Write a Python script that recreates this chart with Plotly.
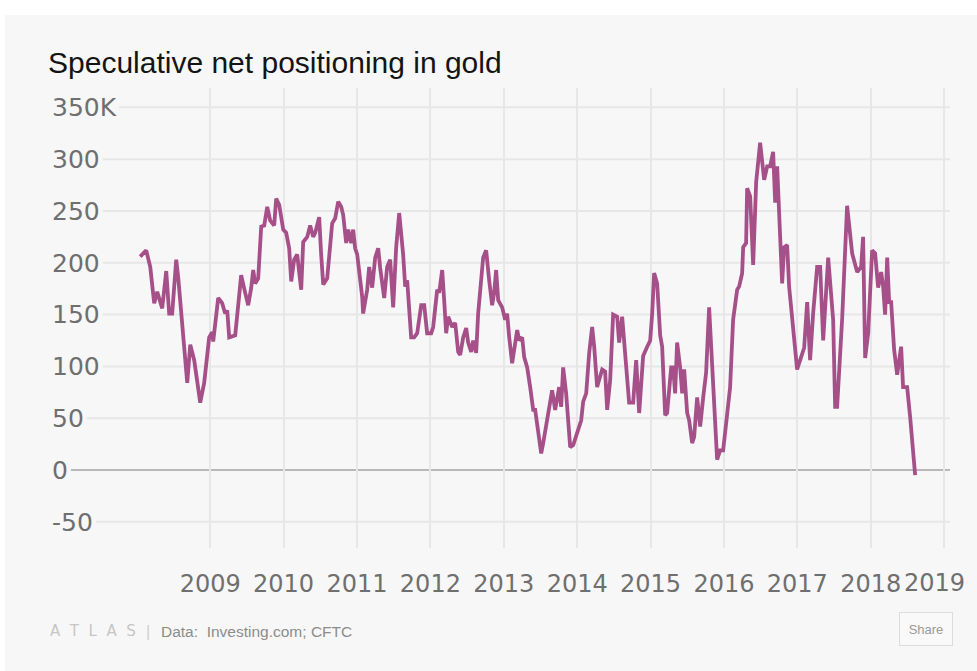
import plotly.graph_objects as go

# Weekly-ish speculative net long positions in gold futures (thousands of contracts)
years = [
    2008.046, 2008.128, 2008.183, 2008.237, 2008.278, 2008.346, 2008.401, 2008.441,
    2008.482, 2008.537, 2008.564, 2008.632, 2008.687, 2008.728, 2008.782, 2008.864,
    2008.918, 2008.986, 2009.027, 2009.041, 2009.109, 2009.163, 2009.204, 2009.232,
    2009.259, 2009.341, 2009.422, 2009.477, 2009.518, 2009.559, 2009.586, 2009.613,
    2009.654, 2009.695, 2009.736, 2009.777, 2009.817, 2009.872, 2009.899, 2009.940,
    2009.995, 2010.035, 2010.076, 2010.104, 2010.144, 2010.185, 2010.240, 2010.267,
    2010.322, 2010.362, 2010.403, 2010.431, 2010.485, 2010.512, 2010.540, 2010.594,
    2010.662, 2010.703, 2010.744, 2010.785, 2010.812, 2010.853, 2010.880, 2010.921,
    2010.948, 2010.975, 2011.003, 2011.071, 2011.084, 2011.139, 2011.166, 2011.207,
    2011.248, 2011.289, 2011.316, 2011.371, 2011.411, 2011.452, 2011.493, 2011.534,
    2011.575, 2011.629, 2011.657, 2011.684, 2011.738, 2011.779, 2011.820, 2011.875,
    2011.916, 2011.956, 2012.011, 2012.038, 2012.093, 2012.120, 2012.161, 2012.188,
    2012.215, 2012.243, 2012.297, 2012.338, 2012.379, 2012.406, 2012.447, 2012.488,
    2012.515, 2012.556, 2012.583, 2012.624, 2012.651, 2012.719, 2012.760, 2012.801,
    2012.842, 2012.869, 2012.896, 2012.924, 2012.978, 2013.019, 2013.046, 2013.074,
    2013.114, 2013.142, 2013.183, 2013.210, 2013.251, 2013.278, 2013.319, 2013.360,
    2013.401, 2013.428, 2013.469, 2013.510, 2013.537, 2013.591, 2013.632, 2013.659,
    2013.700, 2013.728, 2013.755, 2013.782, 2013.809, 2013.850, 2013.905, 2013.946,
    2014.000, 2014.055, 2014.082, 2014.123, 2014.164, 2014.204, 2014.232, 2014.272,
    2014.300, 2014.341, 2014.381, 2014.409, 2014.450, 2014.490, 2014.545, 2014.572,
    2014.613, 2014.640, 2014.681, 2014.708, 2014.763, 2014.804, 2014.845, 2014.899,
    2014.954, 2014.995, 2015.022, 2015.049, 2015.090, 2015.131, 2015.158, 2015.199,
    2015.226, 2015.281, 2015.308, 2015.335, 2015.362, 2015.403, 2015.431, 2015.458,
    2015.499, 2015.526, 2015.567, 2015.594, 2015.635, 2015.676, 2015.717, 2015.757,
    2015.798, 2015.853, 2015.907, 2015.948, 2015.989, 2016.030, 2016.084, 2016.125,
    2016.180, 2016.207, 2016.248, 2016.262, 2016.302, 2016.316, 2016.357, 2016.398,
    2016.439, 2016.493, 2016.548, 2016.589, 2016.629, 2016.670, 2016.698, 2016.725,
    2016.766, 2016.793, 2016.820, 2016.861, 2016.888, 2016.943, 2016.997, 2017.038,
    2017.093, 2017.134, 2017.174, 2017.215, 2017.270, 2017.311, 2017.352, 2017.420,
    2017.488, 2017.515, 2017.542, 2017.610, 2017.678, 2017.747, 2017.787, 2017.815,
    2017.869, 2017.896, 2017.924, 2017.965, 2018.019, 2018.060, 2018.101, 2018.142,
    2018.169, 2018.196, 2018.224, 2018.251, 2018.278, 2018.319, 2018.360, 2018.414,
    2018.441, 2018.496, 2018.537, 2018.578, 2018.605,
]
net_long_k = [
    206, 212, 196, 161, 172, 156, 192, 151,
    151, 203, 186, 128, 84, 121, 106, 65,
    84, 128, 133, 124, 166, 161, 151, 154,
    128, 130, 188, 171, 159, 176, 193, 180,
    185, 235, 236, 254, 241, 236, 262, 256,
    232, 229, 214, 182, 203, 208, 174, 220,
    225, 236, 225, 229, 244, 208, 179, 185,
    238, 243, 259, 254, 246, 219, 232, 219,
    232, 214, 208, 167, 151, 174, 196, 176,
    205, 214, 195, 166, 196, 203, 157, 215,
    248, 208, 177, 183, 128, 128, 132, 159,
    159, 132, 132, 138, 174, 171, 193, 164,
    132, 148, 138, 142, 114, 111, 128, 137,
    123, 114, 125, 113, 151, 205, 212, 183,
    159, 171, 193, 164, 157, 145, 151, 128,
    103, 116, 135, 125, 128, 109, 99, 80,
    58, 58, 36, 16, 26, 48, 61, 77,
    58, 70, 80, 61, 99, 74, 22, 24,
    36, 48, 66, 74, 113, 138, 119, 80,
    87, 97, 95, 58, 87, 150, 148, 123,
    148, 123, 94, 65, 65, 106, 55, 110,
    119, 125, 151, 190, 180, 130, 119, 53,
    55, 99, 99, 74, 123, 99, 74, 97,
    55, 48, 26, 32, 70, 42, 70, 94,
    157, 80, 10, 19, 19, 45, 80, 145,
    174, 177, 190, 215, 219, 272, 264, 198,
    278, 316, 280, 293, 293, 307, 258, 293,
    215, 180, 215, 217, 177, 138, 97, 106,
    118, 162, 106, 151, 196, 196, 125, 205,
    145, 61, 61, 145, 255, 209, 200, 191,
    196, 225, 108, 132, 212, 209, 176, 191,
    177, 150, 205, 162, 162, 116, 92, 119,
    80, 80, 51, 22, -5,
]

y_ticks = [-50, 0, 50, 100, 150, 200, 250, 300, 350]
y_tick_text = ["-50", "0", "50", "100", "150", "200", "250", "300", "350K"]
x_ticks = list(range(2009, 2020))
x_tick_text = [str(y) for y in x_ticks]

# Page geometry (px)
W, H = 977, 671
L, R, T, B = 48, 27, 88, 123
plot_w = W - L - R
plot_h = H - T - B
XLABEL_Y = 583  # vertical centre of the year labels

BG = "#f7f7f7"
LINE = "#a6508a"
GRID = "#e7e7e7"
ZERO = "#a3a3a3"
TICK_GRAY = "#6f6f6f"
Y_TICK_FONT = dict(family="DejaVu Sans", size=25, color=TICK_GRAY)
X_TICK_FONT = dict(family="DejaVu Sans", size=24, color=TICK_GRAY)

fig = go.Figure(
    go.Scatter(
        x=years,
        y=net_long_k,
        mode="lines",
        line=dict(color=LINE, width=3.8),
        hoverinfo="skip",
    )
)

# Horizontal grid lines begin just right of each in-plot tick label
char_em = {d: 0.636 for d in "0123456789"}
char_em.update({"K": 0.656, "-": 0.361})
shapes = []
for v, txt in zip(y_ticks, y_tick_text):
    label_px = sum(char_em[c] for c in txt) * Y_TICK_FONT["size"]
    x0 = (label_px + 7) / plot_w
    shapes.append(dict(
        type="line", xref="paper", yref="y",
        x0=x0, x1=1, y0=v, y1=v,
        line=dict(color=ZERO if v == 0 else GRID, width=1.5 if v == 0 else 2),
        layer="below",
    ))

# White strip above and left of the card
shapes.append(dict(type="rect", xref="paper", yref="paper",
                   x0=-L / plot_w, x1=(W - L) / plot_w,
                   y0=(plot_h + T - 15) / plot_h, y1=(plot_h + T) / plot_h,
                   fillcolor="white", line=dict(width=0), layer="below"))
shapes.append(dict(type="rect", xref="paper", yref="paper",
                   x0=-L / plot_w, x1=(5 - L) / plot_w,
                   y0=-B / plot_h, y1=(plot_h + T) / plot_h,
                   fillcolor="white", line=dict(width=0), layer="below"))

# Last year label sits right after the 2018 label instead of centred on its grid line
last_label_left = x_ticks[-2] + (char_em["0"] * 4 * X_TICK_FONT["size"] / 2 + 1) * (2019.08 - 2006.79) / plot_w

annotations = [
    dict(text=x_tick_text[-1], xref="x", yref="paper", x=last_label_left,
         y=-(XLABEL_Y - T - plot_h) / plot_h,
         xanchor="left", yanchor="middle", showarrow=False, font=X_TICK_FONT),
    dict(text="A  T  L  A  S", xref="paper", yref="paper", x=0, y=-(631 - T - plot_h) / plot_h,
         xanchor="left", yanchor="middle", showarrow=False,
         font=dict(family="DejaVu Sans", size=15, color="#c6c6c6")),
    dict(text="|", xref="paper", yref="paper", x=(148 - L) / plot_w, y=-(631 - T - plot_h) / plot_h,
         xanchor="center", yanchor="middle", showarrow=False,
         font=dict(family="Liberation Sans", size=16, color="#cfcfcf")),
    dict(text="Data:  Investing.com; CFTC", xref="paper", yref="paper",
         x=(159 - L) / plot_w, y=-(631 - T - plot_h) / plot_h,
         xanchor="left", yanchor="middle", showarrow=False,
         font=dict(family="Liberation Sans", size=15.5, color="#8c8c8c")),
    dict(text="Share", xref="paper", yref="paper",
         x=(926 - L) / plot_w, y=-(629 - T - plot_h) / plot_h,
         xanchor="center", yanchor="middle", showarrow=False,
         width=50, height=30, bgcolor="#f9f9f9", bordercolor="#dcdcdc", borderwidth=1,
         font=dict(family="Liberation Sans", size=13, color="#9a9a9a")),
]

fig.update_layout(
    width=W, height=H,
    margin=dict(l=L, r=R, t=T, b=B),
    paper_bgcolor=BG,
    plot_bgcolor="rgba(0,0,0,0)",
    showlegend=False,
    title=dict(
        text="Speculative net positioning in gold",
        x=L / W, xanchor="left", xref="container",
        y=1 - 62 / H, yanchor="middle", yref="container",
        font=dict(family="Liberation Sans", size=30, color="#141414"),
    ),
    xaxis=dict(
        range=[2006.79, 2019.08],
        tickvals=x_ticks,
        ticktext=x_tick_text[:-1] + [""],
        showgrid=True, gridcolor=GRID, gridwidth=2,
        zeroline=False, showline=False, ticks="",
        tickfont=X_TICK_FONT,
        ticklabelstandoff=19,
    ),
    yaxis=dict(
        range=[-75.3, 368.7],
        tickvals=y_ticks,
        ticktext=y_tick_text,
        ticklabelposition="inside",
        showgrid=False, zeroline=False, showline=False, ticks="",
        tickfont=Y_TICK_FONT,
        ticklabelstandoff=1,
    ),
    shapes=shapes,
    annotations=annotations,
)

fig.write_html("out.html")
